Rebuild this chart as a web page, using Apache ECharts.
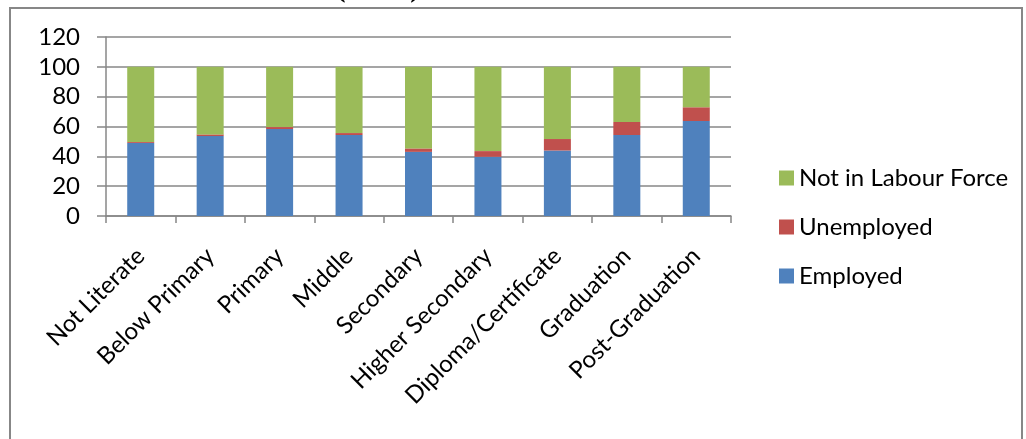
<!DOCTYPE html>
<html>
<head>
<meta charset="utf-8">
<script src="https://cdn.jsdelivr.net/npm/echarts@6/dist/echarts.min.js"></script>
<style>
  html, body { margin: 0; padding: 0; background: #fff; }
  #chart { width: 1026px; height: 439px; }
</style>
</head>
<body>
<div id="chart"></div>
<script>
const categories = ['Not Literate', 'Below Primary', 'Primary', 'Middle', 'Secondary',
    'Higher Secondary', 'Diploma/Certificate', 'Graduation', 'Post-Graduation'];
const employed = [49, 53.6, 58.3, 54.3, 43, 39.7, 43.9, 54.3, 63.7];
const unemployed = [0.6, 1.1, 1.3, 1.3, 2.3, 3.8, 7.7, 8.7, 9.2];
const notInLabour = [50.4, 45.3, 40.4, 44.4, 54.7, 56.5, 48.4, 37, 27.1];
const yTicks = [0, 20, 40, 60, 80, 100, 120];

const font = 'Lato, "Open Sans", sans-serif';
const grey = '#878787';

const chart = echarts.init(document.getElementById('chart'));

const bar = (name, data, color) => ({
    name: name,
    type: 'bar',
    stack: 'total',
    barWidth: 27,
    data: data,
    itemStyle: { color: color },
    emphasis: { disabled: true }
});

chart.setOption({
    animation: false,
    textStyle: { fontFamily: font },
    graphic: [
        {
            type: 'rect',
            shape: { x: 10, y: 8, width: 1012, height: 460 },
            style: { fill: 'none', stroke: grey, lineWidth: 2 },
            silent: true
        },
        {
            // caption of the page above, cut off at the top edge
            type: 'text',
            left: -4,
            top: -28,
            style: {
                text: 'educational classification (in %).',
                font: 'bold 31px "Liberation Serif", serif',
                fill: '#000'
            },
            silent: true
        }
    ],
    grid: { left: 106, right: 295, top: 37, bottom: 223, containLabel: false },
    legend: {
        orient: 'vertical',
        left: 774,
        top: 161,
        itemWidth: 15,
        itemHeight: 15,
        itemGap: 25,
        icon: 'rect',
        data: ['Not in Labour Force', 'Unemployed', 'Employed'],
        textStyle: { fontSize: 24, lineHeight: 24, color: '#000', fontFamily: font }
    },
    xAxis: {
        type: 'category',
        data: categories,
        axisLine: { lineStyle: { color: grey, width: 1.5 } },
        axisTick: { show: true, length: 7, lineStyle: { color: grey, width: 1.5 } },
        axisLabel: { rotate: 45, fontSize: 24, color: '#000', margin: 36, interval: 0 }
    },
    yAxis: {
        type: 'value',
        min: yTicks[0],
        max: yTicks[yTicks.length - 1],
        interval: 20,
        axisLine: { show: true, lineStyle: { color: grey, width: 1.5 } },
        axisTick: { show: true, length: 9, lineStyle: { color: grey, width: 1.5 } },
        axisLabel: { fontSize: 24, color: '#000', margin: 26 },
        splitLine: { lineStyle: { color: grey, width: 1.5 } }
    },
    series: [
        bar('Employed', employed, '#4F81BD'),
        bar('Unemployed', unemployed, '#C0504D'),
        bar('Not in Labour Force', notInLabour, '#9BBB59')
    ]
});
</script>
</body>
</html>
